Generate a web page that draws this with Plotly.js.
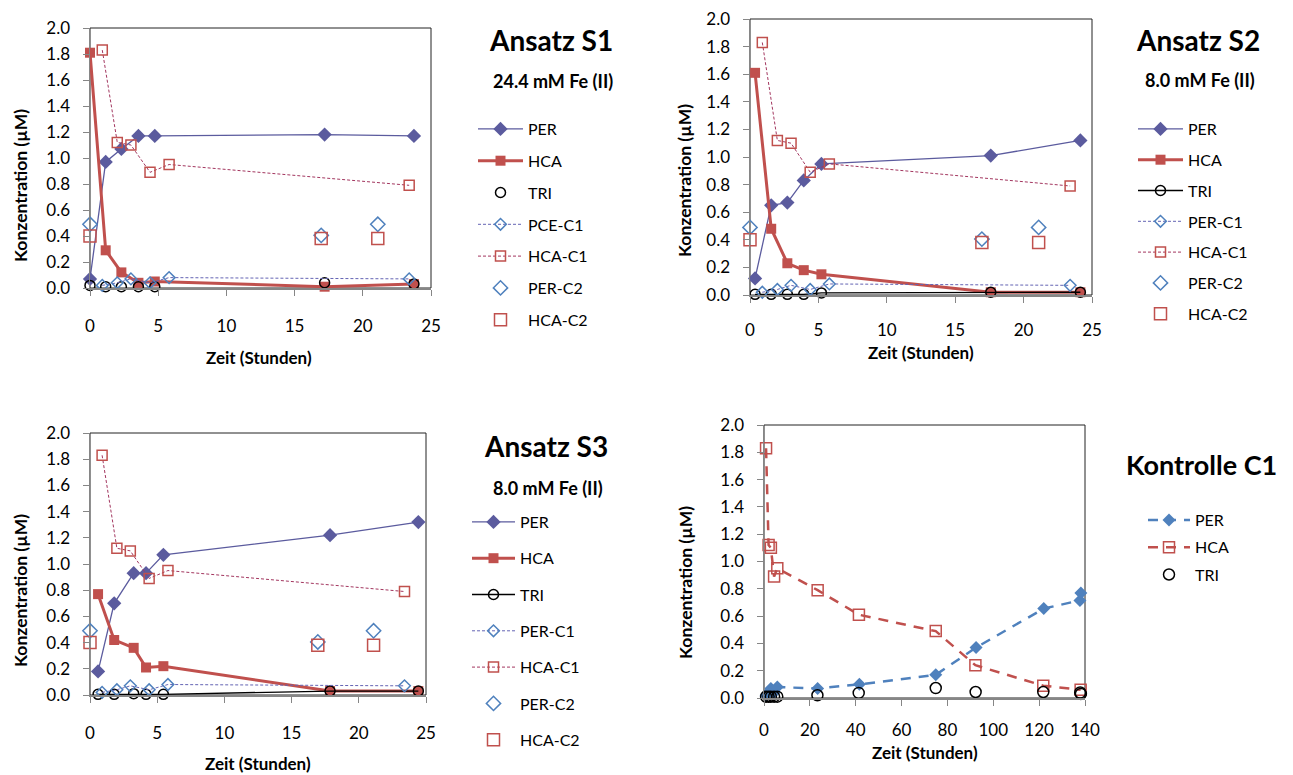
<!DOCTYPE html>
<html>
<head>
<meta charset="utf-8">
<script src="https://cdn.plot.ly/plotly-3.0.1.min.js"></script>
<style>html,body{margin:0;padding:0;background:#fff;}#chart{width:1293px;height:775px;}</style>
</head>
<body>
<div id="chart"></div>
<script>
// ---------- data ----------
// Ansatz S1 (24.4 mM Fe(II))
const s1Time = [0, 1.15, 2.3, 3.55, 4.75, 17.2, 23.75];
const s1PER  = [0.07, 0.97, 1.07, 1.17, 1.17, 1.18, 1.17];
const s1HCA  = [1.81, 0.29, 0.12, 0.04, 0.05, 0.01, 0.03];
const s1TRI  = [0.02, 0.01, 0.01, 0.01, 0.01, 0.04, 0.03];

// Ansatz S2 (8.0 mM Fe(II))
const s2Time = [0.37, 1.55, 2.73, 3.93, 5.22, 17.6, 24.15];
const s2PER  = [0.12, 0.65, 0.67, 0.83, 0.95, 1.01, 1.12];
const s2HCA  = [1.61, 0.48, 0.23, 0.18, 0.15, 0.02, 0.02];
const s2TRI  = [0.005, 0.005, 0.005, 0.005, 0.015, 0.02, 0.02];

// Ansatz S3 (8.0 mM Fe(II))
const s3Time = [0.6, 1.8, 3.25, 4.17, 5.46, 17.86, 24.43];
const s3PER  = [0.18, 0.70, 0.93, 0.93, 1.07, 1.22, 1.32];
const s3HCA  = [0.77, 0.42, 0.36, 0.21, 0.22, 0.03, 0.03];
const s3TRI  = [0.005, 0.005, 0.01, 0.005, 0.005, 0.03, 0.03];

// Kontrolle C1
const c1PERTime = [0.9, 2.0, 3.0, 4.4, 5.8, 23.4, 41.6, 74.9, 92.5, 122, 137.8, 138.2];
const c1PER     = [0.02, 0.04, 0.07, 0.04, 0.08, 0.07, 0.10, 0.17, 0.37, 0.655, 0.715, 0.77];
const c1HCATime = [0.9, 2.0, 3.0, 4.4, 5.8, 23.4, 41.4, 74.9, 92.2, 121.8, 138.1];
const c1HCA     = [1.83, 1.12, 1.10, 0.89, 0.95, 0.79, 0.61, 0.49, 0.24, 0.09, 0.06];
const c1TRITime = [0.9, 2.0, 3.0, 4.4, 5.8, 23.3, 41.3, 74.9, 92.3, 121.8, 137.9, 138.2];
const c1TRI     = [0.01, 0.01, 0.01, 0.01, 0.01, 0.02, 0.037, 0.073, 0.044, 0.044, 0.04, 0.03];

// Kontrolle C2
const c2Time = [0, 16.95, 21.1];
const c2PER  = [0.49, 0.405, 0.49];
const c2HCA  = [0.40, 0.38, 0.38];

// number of C1 points shown in the S panels (first 24 h)
const c1Early = 6;

// ---------- styling ----------
const W = 1293, H = 775;
const fx = p => p / W;
const fy = p => 1 - p / H;
const FONT = 'Lato, "Open Sans", sans-serif';
const cPER = '#5B5B9E', cRED = '#C0504D', cBLUE = '#4F81BD', cC1PER = '#6464B4', cC1HCA = '#A3365F';

function sTraces(idx, legend, t, per, hca, tri, triLine, c1Name) {
  const xa = idx === 1 ? 'x' : 'x' + idx, ya = idx === 1 ? 'y' : 'y' + idx;
  const base = {xaxis: xa, yaxis: ya, legend: legend, cliponaxis: false, type: 'scatter', hoverinfo: 'skip'};
  return [
    Object.assign({}, base, {name: 'PER', legendgroup: legend + 'a', x: t, y: per, mode: 'lines+markers',
      line: {color: cPER, width: 1.3}, marker: {symbol: 'diamond', size: 11, color: cPER}}),
    Object.assign({}, base, {name: 'HCA', legendgroup: legend + 'b', x: t, y: hca, mode: 'lines+markers',
      line: {color: cRED, width: 3}, marker: {symbol: 'square', size: 10, color: cRED}}),
    Object.assign({}, base, {name: 'TRI', legendgroup: legend + 'c', x: t, y: tri, mode: triLine ? 'lines+markers' : 'markers',
      line: {color: '#000', width: 1.3}, marker: {symbol: 'circle-open', size: 10, color: '#000', line: {width: 1.5}}}),
    Object.assign({}, base, {name: c1Name, legendgroup: legend + 'd', x: c1PERTime.slice(0, c1Early), y: c1PER.slice(0, c1Early),
      mode: 'lines+markers', line: {color: cC1PER, width: 1, dash: '3px,2px'},
      marker: {symbol: 'diamond-open', size: 9, color: cBLUE, line: {width: 1.5}}}),
    Object.assign({}, base, {name: 'HCA-C1', legendgroup: legend + 'e', x: c1HCATime.slice(0, c1Early), y: c1HCA.slice(0, c1Early),
      mode: 'lines+markers', line: {color: cC1HCA, width: 1, dash: '3px,2px'},
      marker: {symbol: 'square-open', size: 10, color: cRED, line: {width: 1.5}}}),
    Object.assign({}, base, {name: 'PER-C2', legendgroup: legend + 'f', x: c2Time, y: c2PER, mode: 'markers',
      marker: {symbol: 'diamond-open', size: 11, color: cBLUE, line: {width: 1.5}}}),
    Object.assign({}, base, {name: 'HCA-C2', legendgroup: legend + 'g', x: c2Time, y: c2HCA, mode: 'markers',
      marker: {symbol: 'square-open', size: 12, color: cRED, line: {width: 1.5}}})
  ];
}

const c1Base = {xaxis: 'x4', yaxis: 'y4', legend: 'legend4', cliponaxis: false, type: 'scatter', hoverinfo: 'skip'};
const data = [].concat(
  sTraces(1, 'legend', s1Time, s1PER, s1HCA, s1TRI, false, 'PCE-C1'),
  sTraces(2, 'legend2', s2Time, s2PER, s2HCA, s2TRI, true, 'PER-C1'),
  sTraces(3, 'legend3', s3Time, s3PER, s3HCA, s3TRI, true, 'PER-C1'),
  [
    Object.assign({}, c1Base, {name: 'PER', legendgroup: 'ca', x: c1PERTime, y: c1PER, mode: 'lines+markers',
      line: {color: cBLUE, width: 2.5, dash: '10px,8px'}, marker: {symbol: 'diamond', size: 10, color: cBLUE}}),
    Object.assign({}, c1Base, {name: 'HCA', legendgroup: 'cb', x: c1HCATime, y: c1HCA, mode: 'lines+markers',
      line: {color: cRED, width: 2.5, dash: '10px,8px'}, marker: {symbol: 'square-open', size: 11, color: cRED, line: {width: 1.5}}}),
    Object.assign({}, c1Base, {name: 'TRI', legendgroup: 'cc', x: c1TRITime, y: c1TRI, mode: 'markers',
      marker: {symbol: 'circle-open', size: 11, color: '#000', line: {width: 1.5}}})
  ]
);

function xAx(l, r, anchor, maxv, dt, so) {
  return {domain: [fx(l), fx(r)], anchor: anchor, range: [0, maxv], dtick: dt, tick0: 0,
    showline: true, linecolor: '#868686', linewidth: 1.5, ticks: 'outside', ticklen: 6, tickcolor: '#868686',
    showgrid: false, zeroline: false, ticklabelstandoff: so, tickfont: {family: FONT, size: 17, color: '#000'}, fixedrange: true};
}
function yAx(b, t, anchor) {
  return {domain: [fy(b), fy(t)], anchor: anchor, range: [0, 2.0], dtick: 0.2, tick0: 0, tickformat: '.1f',
    showline: true, linecolor: '#868686', linewidth: 1.5, ticks: 'outside', ticklen: 6, tickcolor: '#868686',
    showgrid: false, zeroline: false, ticklabelstandoff: 9, tickfont: {family: FONT, size: 17, color: '#000'}, fixedrange: true};
}
function legendAt(x, y, gap, iw) {
  return {x: fx(x), y: fy(y), xanchor: 'left', yanchor: 'top', bgcolor: 'rgba(0,0,0,0)', borderwidth: 0,
    font: {family: FONT, size: 16, color: '#000'}, tracegroupgap: gap, itemwidth: iw, traceorder: 'grouped', itemclick: false};
}
function ann(text, x, y, size, bold, angle) {
  return {text: bold ? '<b>' + text + '</b>' : text, x: fx(x), y: fy(y), xref: 'paper', yref: 'paper',
    xanchor: 'center', yanchor: 'middle', showarrow: false, textangle: angle || 0,
    font: {family: FONT, size: size, color: '#000'}};
}
function frame(n) {
  const s = n === 1 ? '' : n;
  return {type: 'rect', xref: 'x' + s + ' domain', yref: 'y' + s + ' domain', x0: 0, x1: 1, y0: 0, y1: 1,
    line: {color: '#222', width: 1}, layer: 'below'};
}

const layout = {
  width: W, height: H, margin: {l: 0, r: 0, t: 0, b: 0},
  paper_bgcolor: '#fff', plot_bgcolor: 'rgba(0,0,0,0)', showlegend: true,
  font: {family: FONT, color: '#000'},
  xaxis: xAx(90, 431, 'y', 25, 5, 16),       yaxis: yAx(288, 28, 'x'),
  xaxis2: xAx(750, 1092, 'y2', 25, 5, 13),   yaxis2: yAx(295, 19, 'x2'),
  xaxis3: xAx(90, 426, 'y3', 25, 5, 16),     yaxis3: yAx(695, 433, 'x3'),
  xaxis4: xAx(764, 1085, 'y4', 140, 20, 10), yaxis4: yAx(698, 425, 'x4'),
  legend: legendAt(473, 112, 8, 45),
  legend2: legendAt(1133, 112, 7, 45),
  legend3: legendAt(467, 505, 12.5, 43),
  legend4: legendAt(1143, 503, 3.5, 42),
  shapes: [frame(1), frame(2), frame(3), frame(4)],
  annotations: [
    ann('Ansatz S1', 551, 40, 28, true), ann('24.4 mM Fe (II)', 553, 81, 18, true),
    ann('Ansatz S2', 1198, 40, 28, true), ann('8.0 mM Fe (II)', 1200, 80, 18, true),
    ann('Ansatz S3', 546, 446, 28, true), ann('8.0 mM Fe (II)', 548, 488, 18, true),
    ann('Kontrolle C1', 1201, 464, 27, true),
    ann('Konzentration (µM)', 20, 186, 17.5, true, -90),
    ann('Konzentration (µM)', 685, 181, 17.5, true, -90),
    ann('Konzentration (µM)', 20, 591, 17.5, true, -90),
    ann('Konzentration (µM)', 685, 583, 17.5, true, -90),
    ann('Zeit (Stunden)', 259, 357, 17, true),
    ann('Zeit (Stunden)', 921, 352, 17, true),
    ann('Zeit (Stunden)', 258, 763, 17, true),
    ann('Zeit (Stunden)', 925, 752, 17, true)
  ]
};

Plotly.newPlot('chart', data, layout, {staticPlot: true, displayModeBar: false});
</script>
</body>
</html>
